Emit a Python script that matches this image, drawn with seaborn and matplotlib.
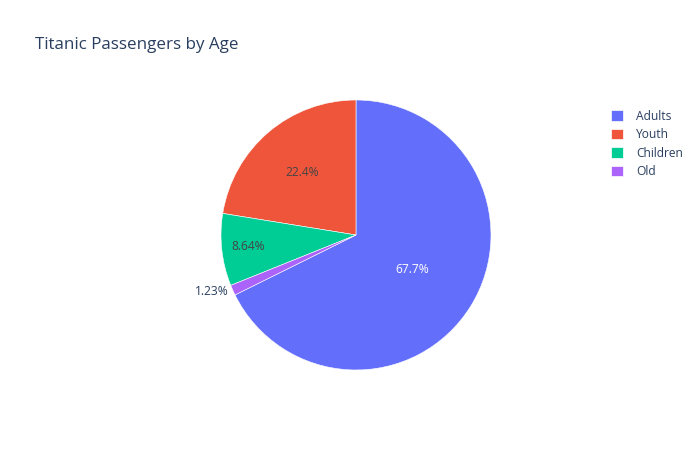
import numpy as np
import matplotlib
matplotlib.use("Agg")
import matplotlib.pyplot as plt
import matplotlib.patches as mpatches
import seaborn as sns

# Data
categories = ["Adults", "Youth", "Children", "Old"]
counts = [603, 200, 77, 11]
colors = ["#636efa", "#EF553B", "#00cc96", "#ab63fa"]
label_colors = ["white", "#444444", "#444444", "#2a3f5f"]
label_radius = [0.49, 0.61, 0.80, 1.03]

sns.set_style("white")
plt.rcParams['font.family'] = ['Open Sans', 'DejaVu Sans']

fig = plt.figure(figsize=(7, 4.5), dpi=100)
ax = fig.add_axes([0.3157, 0.1778, 0.3857, 0.6])

total = sum(counts)
fracs = np.array(counts) / total
start = 90 - 360 * fracs[0]

wedges, _ = ax.pie(
    counts,
    colors=colors,
    startangle=start,
    counterclock=True,
    radius=1,
    wedgeprops=dict(edgecolor="white", linewidth=0.4),
)

# percent labels
for i, w in enumerate(wedges):
    mid = np.deg2rad((w.theta1 + w.theta2) / 2)
    r = label_radius[i]
    x, y = r * np.cos(mid), r * np.sin(mid)
    pct = 100 * fracs[i]
    txt = f"{pct:.3g}%"
    ha = "right" if r > 1 else "center"
    ax.text(x, y, txt, ha=ha, va="center", fontsize=8.64, color=label_colors[i])

ax.set_xlim(-1, 1)
ax.set_ylim(-1, 1)
ax.set_aspect("equal")
ax.axis("off")

fig.text(35 / 700, 1 - 45 / 450, "Titanic Passengers by Age", fontsize=12.24,
         color="#2a3f5f", ha="left", va="center")

handles = [mpatches.Patch(facecolor=c, edgecolor="white", linewidth=0.5) for c in colors]
fig.legend(handles, categories, loc="upper left", bbox_to_anchor=(606 / 700, 1 - 105 / 450),
           frameon=False, fontsize=8.64, handlelength=1.0, handleheight=1.0,
           handletextpad=1.1, labelspacing=0.45, labelcolor="#2a3f5f", borderaxespad=0)

plt.savefig("out.png", dpi=100)
plt.close()
